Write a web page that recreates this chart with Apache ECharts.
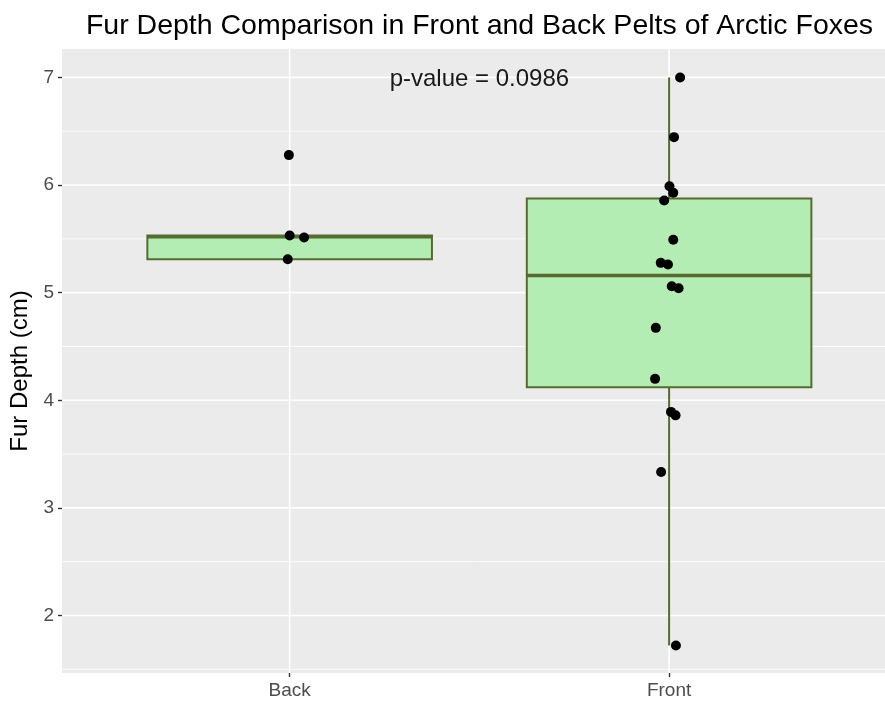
<!DOCTYPE html>
<html><head><meta charset="utf-8">
<script src="https://cdn.jsdelivr.net/npm/echarts@6/dist/echarts.min.js"></script>
<style>html,body{margin:0;padding:0;background:#fff;overflow:hidden}#c{width:885px;height:705px}</style>
</head><body><div id="c"></div>
<script>
const categories = ['Back', 'Front'];
const backValues = [6.278, 5.531, 5.512, 5.311];
const backJitter = [-0.002, 0.0, 0.038, -0.005];
const frontValues = [7.0, 6.445, 5.989, 5.928, 5.856, 5.491, 5.277, 5.261, 5.060, 5.041, 4.673, 4.199, 3.892, 3.860, 3.334, 1.722];
const frontJitter = [0.029, 0.013, 0.001, 0.011, -0.013, 0.011, -0.022, -0.003, 0.007, 0.025, -0.035, -0.037, 0.005, 0.017, -0.021, 0.018];
// [lower whisker, Q1, median, Q3, upper whisker]
const backBox = [5.311, 5.311, 5.52, 5.531, 5.531];
const frontBox = [1.722, 4.122, 5.16, 5.874, 7.0];
const yTicks = [2, 3, 4, 5, 6, 7];
const yMinorLines = [1.5, 2.5, 3.5, 4.5, 5.5, 6.5];
const xTicks = [1, 2];
const yRange = [1.466, 7.264];
// visible part of the x range (the panel is cropped at the right edge)
const xRange = [0.4, 2.569];
const pValueLabel = 'p-value = 0.0986';
const pValuePos = [1.5, 7];
const titleText = 'Fur Depth Comparison in Front and Back Pelts of Arctic Foxes';
const yAxisTitle = 'Fur Depth (cm)';

const FONT = '"Liberation Sans", Arial, Helvetica, sans-serif';
const chart = echarts.init(document.getElementById('c'), null, {renderer: 'canvas'});

const boxData = [[1].concat(backBox), [2].concat(frontBox)];
const pointData = backValues.map((v, i) => [1 + backJitter[i], v])
  .concat(frontValues.map((v, i) => [2 + frontJitter[i], v]));
const hLines = yTicks.map(v => [xRange[0], v, 1]).concat(yMinorLines.map(v => [xRange[0], v, 0]));
const vLines = xTicks.map(v => [v, yRange[0], 1]);

const stroke = '#556B2F';
const option = {
  animation: false,
  backgroundColor: '#ffffff',
  title: {
    text: titleText,
    left: 479.5, top: 12, padding: 0,
    textAlign: 'center',
    textStyle: {fontFamily: FONT, fontSize: 28.5, fontWeight: 'normal', color: '#000'}
  },
  grid: {left: 62, right: 0, top: 49, bottom: 32, show: true, backgroundColor: '#EBEBEB', borderWidth: 0},
  xAxis: {
    type: 'value', min: xRange[0], max: xRange[1],
    axisLine: {show: false},
    splitLine: {show: false},
    axisTick: {show: true, customValues: xTicks, length: 4, lineStyle: {color: '#333333', width: 1.4}},
    axisLabel: {customValues: xTicks, formatter: v => categories[Math.round(v) - 1], color: '#4D4D4D',
      fontFamily: FONT, fontSize: 19, margin: 8}
  },
  yAxis: {
    type: 'value', min: yRange[0], max: yRange[1],
    name: yAxisTitle, nameLocation: 'middle', nameRotate: 90, nameGap: 30,
    nameTextStyle: {fontFamily: FONT, fontSize: 24, color: '#000', padding: [0, 20, 0, 0]},
    axisLine: {show: false},
    splitLine: {show: false},
    axisTick: {show: true, customValues: yTicks, length: 4, lineStyle: {color: '#333333', width: 1.4}},
    axisLabel: {customValues: yTicks, color: '#4D4D4D', fontFamily: FONT, fontSize: 19, margin: 8}
  },
  series: [
    {
      type: 'custom', z: 1, silent: true, data: hLines, encode: {x: 0, y: 1},
      renderItem(params, api) {
        const cs = params.coordSys;
        const y = api.coord([api.value(0), api.value(1)])[1];
        return {type: 'line', shape: {x1: cs.x, y1: y, x2: cs.x + cs.width, y2: y},
          style: {stroke: '#ffffff', lineWidth: api.value(2) ? 1.6 : 0.8}};
      }
    },
    {
      type: 'custom', z: 1, silent: true, data: vLines, encode: {x: 0, y: 1},
      renderItem(params, api) {
        const cs = params.coordSys;
        const x = api.coord([api.value(0), api.value(1)])[0];
        return {type: 'line', shape: {x1: x, y1: cs.y, x2: x, y2: cs.y + cs.height},
          style: {stroke: '#ffffff', lineWidth: 1.6}};
      }
    },
    {
      type: 'custom', z: 3, data: boxData, encode: {x: 0, y: [1, 2, 3, 4, 5]},
      renderItem(params, api) {
        const x = api.value(0);
        const halfW = api.size([0.75, 0])[0] / 2;
        const pLo = api.coord([x, api.value(1)]);
        const pQ1 = api.coord([x, api.value(2)]);
        const pMed = api.coord([x, api.value(3)]);
        const pQ3 = api.coord([x, api.value(4)]);
        const pHi = api.coord([x, api.value(5)]);
        return {type: 'group', children: [
          {type: 'line', shape: {x1: pHi[0], y1: pHi[1], x2: pQ3[0], y2: pQ3[1]}, style: {stroke, lineWidth: 2}},
          {type: 'line', shape: {x1: pQ1[0], y1: pQ1[1], x2: pLo[0], y2: pLo[1]}, style: {stroke, lineWidth: 2}},
          {type: 'rect', shape: {x: pQ3[0] - halfW, y: pQ3[1], width: 2 * halfW, height: pQ1[1] - pQ3[1]},
            style: {fill: '#B3EDB3', stroke, lineWidth: 2}},
          {type: 'line', shape: {x1: pMed[0] - halfW, y1: pMed[1], x2: pMed[0] + halfW, y2: pMed[1]},
            style: {stroke, lineWidth: 3.5}}
        ]};
      }
    },
    {
      type: 'scatter', z: 4, data: pointData, symbolSize: 10,
      itemStyle: {color: '#000000', opacity: 1}
    },
    {
      type: 'custom', z: 5, silent: true, data: [pValuePos], encode: {x: 0, y: 1},
      renderItem(params, api) {
        const p = api.coord([api.value(0), api.value(1)]);
        return {type: 'text', x: p[0], y: p[1] + 2,
          style: {text: pValueLabel, fill: '#1A1A1A', font: '24px ' + FONT, align: 'center', verticalAlign: 'middle'}};
      }
    }
  ]
};
chart.setOption(option);
</script>
</body></html>
